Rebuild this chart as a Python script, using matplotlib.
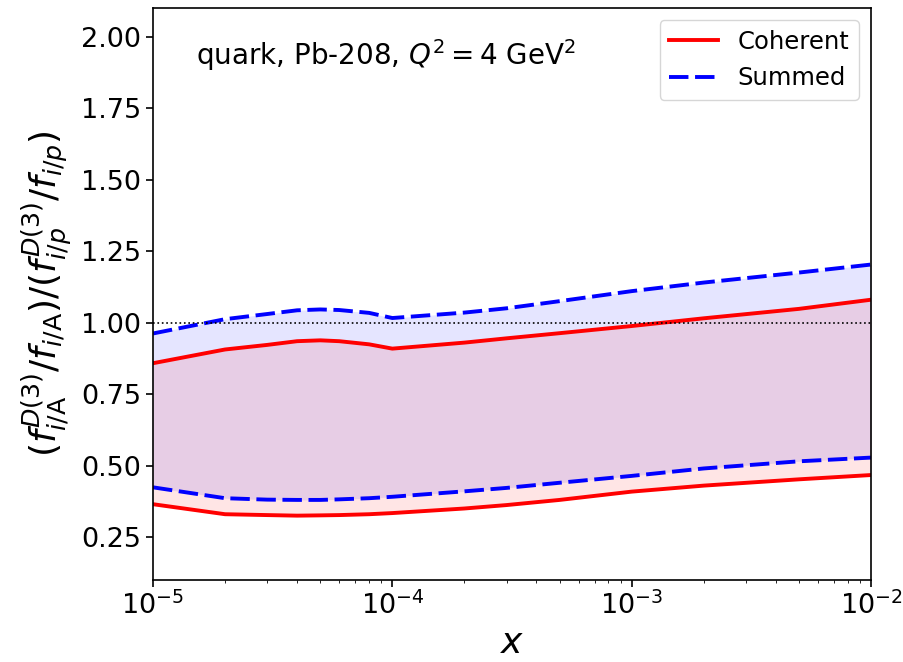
import matplotlib
matplotlib.use("Agg")
import matplotlib.pyplot as plt

x = [1e-5, 2e-5, 3e-5, 4e-5, 5e-5, 6e-5, 8e-5, 1e-4, 2e-4, 3e-4, 5e-4, 1e-3, 2e-3, 5e-3, 1e-2]
coh_upper = [0.858, 0.906, 0.922, 0.935, 0.938, 0.935, 0.924, 0.909, 0.930, 0.945, 0.963, 0.988, 1.015, 1.048, 1.080]
coh_lower = [0.365, 0.330, 0.327, 0.325, 0.326, 0.327, 0.330, 0.334, 0.350, 0.362, 0.380, 0.409, 0.430, 0.452, 0.467]
sum_upper = [0.962, 1.012, 1.030, 1.043, 1.046, 1.044, 1.034, 1.016, 1.035, 1.050, 1.075, 1.110, 1.140, 1.175, 1.203]
sum_lower = [0.424, 0.386, 0.381, 0.380, 0.380, 0.382, 0.386, 0.391, 0.410, 0.422, 0.440, 0.464, 0.490, 0.515, 0.528]

fig = plt.figure(figsize=(9.04, 6.62), dpi=100)
ax = fig.add_axes([153/904, 1 - 580/662, 718/904, 572/662])

ax.fill_between(x, sum_lower, sum_upper, color='blue', alpha=0.1, linewidth=0)
ax.fill_between(x, coh_lower, coh_upper, color='red', alpha=0.1, linewidth=0)

ax.plot(x, coh_upper, color='red', lw=2.8, label='Coherent')
ax.plot(x, coh_lower, color='red', lw=2.8)
ax.plot(x, sum_upper, color='blue', lw=2.8, dashes=(5.0, 1.7), label='Summed')
ax.plot(x, sum_lower, color='blue', lw=2.8, dashes=(5.0, 1.7))

ax.axhline(1.0, color='black', ls=':', lw=1.2)

ax.set_xscale('log')
ax.set_xlim(1e-5, 1e-2)
ax.set_ylim(0.1, 2.1)
ax.set_yticks([0.25, 0.5, 0.75, 1.0, 1.25, 1.5, 1.75, 2.0])
ax.tick_params(axis='both', labelsize=19.5, width=1.2)
ax.tick_params(axis='both', which='major', length=5)
for s in ax.spines.values():
    s.set_linewidth(1.2)

ax.set_xlabel(r'$x$', fontsize=26)
ax.set_ylabel(r'$(f^{D(3)}_{i/\mathrm{A}}/f_{i/\mathrm{A}})/(f^{D(3)}_{i/p}/f_{i/p})$', fontsize=26)

ax.text(0.06, 0.918, r'quark, Pb-208, $Q^2 = 4$ GeV$^2$', transform=ax.transAxes,
        fontsize=20, ha='left', va='center')

ax.legend(loc='upper right', fontsize=17.5, handlelength=2.0)

fig.savefig('out.png', dpi=100)
